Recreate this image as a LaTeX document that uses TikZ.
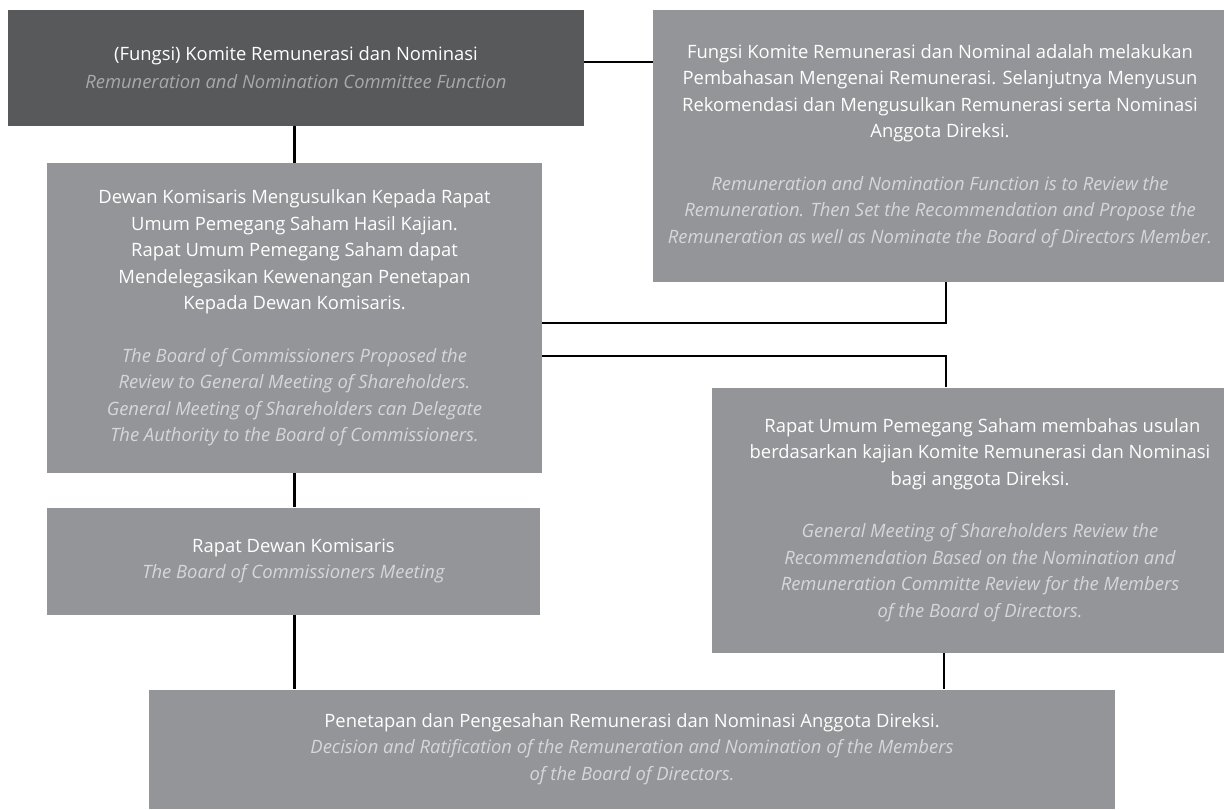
\documentclass[tikz,border=0pt]{standalone}
\usepackage{fontspec}
\setmainfont{Open Sans}
\definecolor{boxdark}{HTML}{58595B}
\definecolor{boxgray}{HTML}{939598}
\definecolor{engray}{HTML}{D6D7D9}
\definecolor{endark}{HTML}{A7A9AC}
\newcommand\en[1]{{\color{engray}\itshape #1}}
\newcommand\ondark[1]{{\color{endark}\itshape #1}}
\begin{document}
\begin{tikzpicture}[x=1pt,y=-1pt,
  box/.style={fill=boxgray, inner sep=0pt, text=white, align=center,
    font=\fontsize{18.4}{26.5}\selectfont},
  conn/.style={draw=black, line width=2.4pt}]
\useasboundingbox (0,0) rectangle (1224,810);

% process boxes
\node[box, fill=boxdark, minimum width=576pt, minimum height=116pt,
  font=\fontsize{18.4}{28}\selectfont] (b1) at (296,68)
  {(Fungsi) Komite Remunerasi dan Nominasi\\
   \ondark{Remuneration and Nomination Committee Function}};

\node[box, minimum width=574pt, minimum height=272pt] (b2) at (940,146)
  {Fungsi Komite Remunerasi dan Nominal adalah melakukan\\
   Pembahasan Mengenai Remunerasi. Selanjutnya Menyusun\\
   Rekomendasi dan Mengusulkan Remunerasi serta Nominasi\\
   Anggota Direksi.\\[26pt]
   \en{Remuneration and Nomination Function is to Review the}\\
   \en{Remuneration. Then Set the Recommendation and Propose the}\\
   \en{Remuneration as well as Nominate the Board of Directors Member.}};

\node[box, minimum width=495pt, minimum height=310pt] (b3) at (294.5,318)
  {Dewan Komisaris Mengusulkan Kepada Rapat\\
   Umum Pemegang Saham Hasil Kajian.\\
   Rapat Umum Pemegang Saham dapat\\
   Mendelegasikan Kewenangan Penetapan\\
   Kepada Dewan Komisaris.\\[26pt]
   \en{The Board of Commissioners Proposed the}\\
   \en{Review to General Meeting of Shareholders.}\\
   \en{General Meeting of Shareholders can Delegate}\\
   \en{The Authority to the Board of Commissioners.}};

\node[box, minimum width=536pt, minimum height=265pt] (b4) at (980,520)
  {\ Rapat Umum Pemegang Saham membahas usulan\\
   berdasarkan kajian Komite Remunerasi dan Nominasi\\
   bagi anggota Direksi.\\[26pt]
   \en{General Meeting of Shareholders Review the}\\
   \en{Recommendation Based on the Nomination and}\\
   \en{Remuneration Committe Review for the Members}\\
   \en{of the Board of Directors.}};

\node[box, minimum width=493pt, minimum height=107pt] (b5) at (293.5,561)
  {Rapat Dewan Komisaris\\
   \en{The Board of Commissioners Meeting}};

\node[box, minimum width=966pt, minimum height=119pt,
  font=\fontsize{18.4}{26.7}\selectfont] (b6) at (632,749)
  {Penetapan dan Pengesahan Remunerasi dan Nominasi Anggota Direksi.\\
   \en{Decision and Ratification of the Remuneration and Nomination of the Members}\\
   \en{of the Board of Directors.}};

% routing points
\coordinate (r1) at (600,62);
\coordinate (r2) at (946,323);
\coordinate (r3) at (946,356);
\coordinate (r4) at (944,0);

% connectors
\draw[conn] (b1.east |- r1) -- (b2.west |- r1);
\draw[conn] (b1.south -| b3.north) -- (b3.north);
\draw[conn] (b2.south -| r2) -- (r2) -- (b3.east |- r2);
\draw[conn] (b3.east |- r3) -- (r3) -- (b4.north -| r3);
\draw[conn] (b3.south) -- (b5.north -| b3.south);
\draw[conn] (b5.south -| b3.south) -- (b6.north -| b3.south);
\draw[conn] (b4.south -| r4) -- (b6.north -| r4);
\end{tikzpicture}
\end{document}
